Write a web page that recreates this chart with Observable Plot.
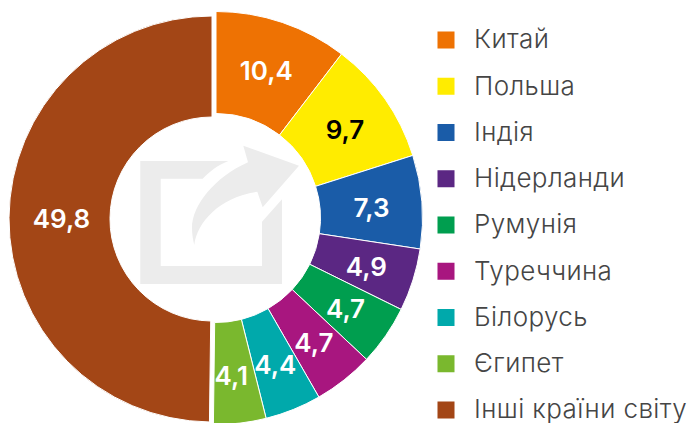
<!DOCTYPE html>
<html><head><meta charset="utf-8">
<script src="https://cdn.jsdelivr.net/npm/d3@7"></script>
<script src="https://cdn.jsdelivr.net/npm/@observablehq/plot@0.6"></script>
<style>html,body{margin:0;padding:0;background:#fff;overflow:hidden}svg{display:block}</style>
</head><body><div id="chart"></div>
<script>
const countries = ["Китай","Польша","Індія","Нідерланди","Румунія","Туреччина","Білорусь","Єгипет","Інші країни світу"];
const shares = [10.4,9.7,7.3,4.9,4.7,4.7,4.4,4.1,49.8];
const labels = ["10,4","9,7","7,3","4,9","4,7","4,7","4,4","4,1","49,8"];
const colors = ["#ee7203","#ffec00","#1a5ca8","#5b2783","#009e4f","#a8167f","#00a9ab","#7ab82e","#a34616"];
const labelColors = ["#fff","#000","#fff","#fff","#fff","#fff","#fff","#fff","#fff"];
const iconPaths = [
  "M140.3,161H228.3C218,165 209,172 202.7,178.7H160.7V266H262V221.7L282,199.3V284H140.3Z",
  "M299,165.7L243.3,145.7L248,162.3C215,177 192,205 192,228C192,234 193,240 194.3,245C197,222 220,197 257.3,191.7L262.7,207.3Z"
];

const center = [216,218], R = 206.5, r = 104.5;
const rest = {center:[212,219], R:203, r:102};
const nudgeX = {"Індія":-1.5,"Єгипет":-3.5,"Інші країни світу":2,"Китай":-0.5};
const pie = d3.pie().sort(null).value(d => d.share)(countries.map((name,i)=>({name,share:shares[i],label:labels[i],labelColor:labelColors[i],i})));
const slices = pie.map(a => {
  const isRest = a.data.i === 8;
  const g = isRest ? rest : {center, R, r};
  const mid = (a.startAngle+a.endAngle)/2, rad = 157;
  return {...a.data, startAngle:a.startAngle, endAngle:a.endAngle, g,
    lx: center[0] + rad*Math.sin(mid) + (nudgeX[a.data.name] || 0),
    ly: center[1] - rad*Math.cos(mid) + 2};
});
const legendY = d3.scalePoint().domain(countries).range([39.5,409.5]);

const arcsMark = (index, {x,y}) => {
  const svg = d3.create("svg:g");
  svg.selectAll("path").data(slices).join("path")
    .attr("transform", d => `translate(${x(d.g.center[0])},${y(d.g.center[1])})`)
    .attr("d", d => d3.arc().innerRadius(d.g.r).outerRadius(d.g.R)(d))
    .attr("fill", d => colors[d.i])
    .attr("stroke", "#fff").attr("stroke-width", 1);
  return svg.node();
};
const iconMark = () => {
  const svg = d3.create("svg:g");
  svg.selectAll("path").data(iconPaths).join("path").attr("d", d=>d).attr("fill","#ececec");
  return svg.node();
};

const plot = Plot.plot({
  width:691, height:423, margin:0,
  x:{domain:[0,691], range:[0,691], axis:null},
  y:{domain:[0,423], range:[0,423], axis:null},
  marks:[
    arcsMark,
    iconMark,
    Plot.text(slices,{x:"lx",y:"ly",text:"label",fill:"labelColor",fontSize:26,fontWeight:600,fontFamily:"Inter, sans-serif"}),
    Plot.dot(countries,{x:()=>445.5,y:d=>legendY(d),symbol:"square",r:9.6,fill:(d,i)=>colors[i],stroke:null}),
    Plot.text(countries,{x:()=>473.5,y:d=>legendY(d),text:d=>d,textAnchor:"start",fill:"#454545",fontSize:26,fontWeight:300,fontFamily:"Inter, sans-serif",
      render:(i,s,v,d,c,next)=>{const g=next(i,s,v,d,c); g.setAttribute("letter-spacing","0.4"); return g;}})
  ]
});
document.getElementById("chart").append(plot);
</script></body></html>
